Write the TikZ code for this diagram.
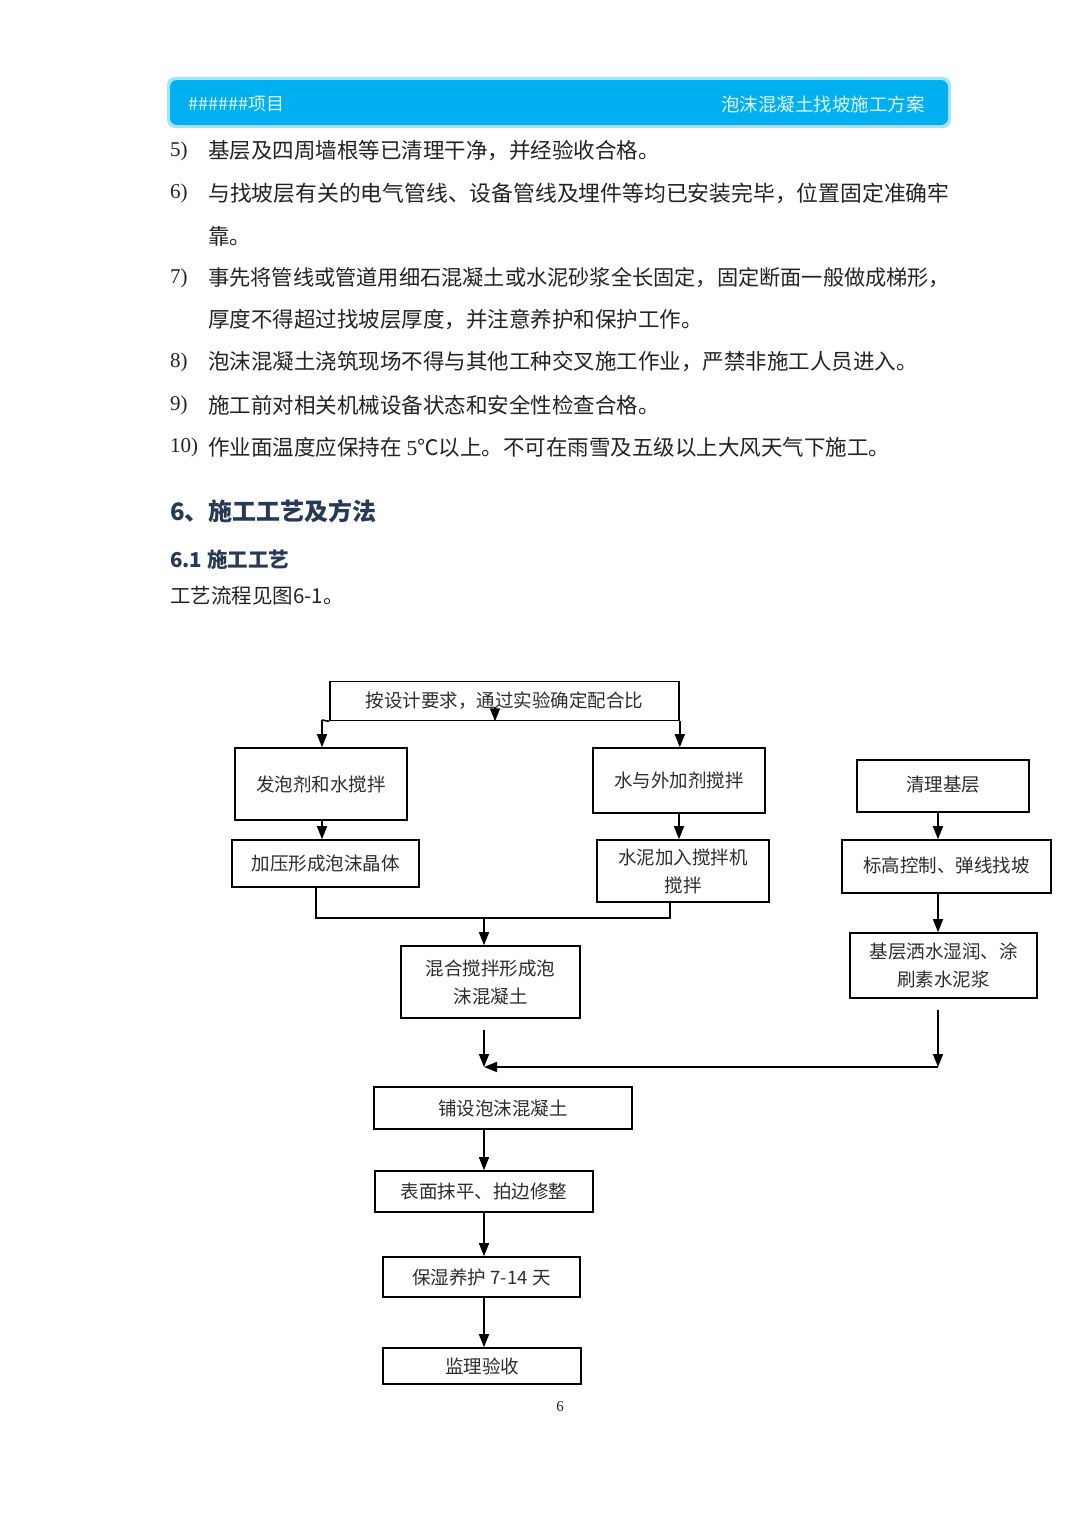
\documentclass[tikz,border=0pt]{standalone}
\usepackage{fontspec}
\setmainfont{Liberation Serif}
\newfontfamily\cjk{Noto Sans CJK SC}
\usetikzlibrary{arrows.meta}
\definecolor{hdr}{RGB}{0,176,240}
\definecolor{txt}{RGB}{35,35,35}
\definecolor{head}{RGB}{38,58,88}
\definecolor{flowtxt}{RGB}{45,45,45}
\tikzset{
  fbox/.style={draw=black, line width=1.6pt, inner sep=0pt, align=center,
    font=\cjk\fontsize{18.5}{28}\selectfont, text=flowtxt},
  conn/.style={line width=1.6pt},
  arr/.style={line width=1.6pt, -{Triangle[width=10pt,length=13pt]}},
  body/.style={anchor=west, inner sep=0pt, text=txt, font=\cjk\fontsize{21.5}{26}\selectfont},
  num/.style={anchor=west, inner sep=0pt, text=txt, font=\fontsize{21}{26}\selectfont},
}
\begin{document}
\begin{tikzpicture}[x=1pt,y=-1pt]
\useasboundingbox (0,0) rectangle (1080,1527);
\fill[white] (0,0) rectangle (1080,1527);
% header
\fill[hdr!35, rounded corners=8pt] (167,77) rectangle (951,128);
\fill[hdr, rounded corners=7pt] (170,80) rectangle (948,125);
\node[anchor=west, inner sep=0pt, text=white!88!hdr, font=\cjk\fontsize{18}{20}\selectfont] (h1) at (188,104) {\#\#\#\#\#\#项目};
\node[anchor=east, inner sep=0pt, text=white!88!hdr, font=\cjk\fontsize{18.5}{20}\selectfont] (h2) at (925,104) {泡沫混凝土找坡施工方案};
% body text
\node[num] (n5) at (170,151) {5)};
\node[body] (t5) at (208,151) {基层及四周墙根等已清理干净，并经验收合格。};
\node[num] (n6) at (170,193) {6)};
\node[body, font=\cjk\fontsize{21.8}{26}\selectfont] (t6) at (208,193) {与找坡层有关的电气管线、设备管线及埋件等均已安装完毕，位置固定准确牢};
\node[body] (t6b) at (208,236) {靠。};
\node[num] (n7) at (170,278) {7)};
\node[body, font=\cjk\fontsize{21.2}{26}\selectfont] (t7) at (208,278) {事先将管线或管道用细石混凝土或水泥砂浆全长固定，固定断面一般做成梯形，};
\node[body] (t7b) at (208,320) {厚度不得超过找坡层厚度，并注意养护和保护工作。};
\node[num] (n8) at (170,362) {8)};
\node[body] (t8) at (208,362) {泡沫混凝土浇筑现场不得与其他工种交叉施工作业，严禁非施工人员进入。};
\node[num] (n9) at (170,405) {9)};
\node[body] (t9) at (208,405) {施工前对相关机械设备状态和安全性检查合格。};
\node[num] (n10) at (170,447) {10)};
\node[body] (t10) at (208,447) {作业面温度应保持在 {\fontspec{Liberation Serif} 5}℃以上。不可在雨雪及五级以上大风天气下施工。};
% headings
\node[anchor=west, inner sep=0pt, text=head, font=\cjk\bfseries\fontsize{24}{28}\selectfont] (s6) at (170,511) {6、施工工艺及方法};
\node[anchor=west, inner sep=0pt, text=head, font=\cjk\bfseries\fontsize{20.5}{24}\selectfont] (s61) at (170,560) {6.1 施工工艺};
\node[body, font=\cjk\fontsize{20.5}{24}\selectfont] (intro) at (170,596) {工艺流程见图6-1。};
% flowchart boxes
\node[fbox, minimum width=349pt, minimum height=39pt] (b0) at (504.5,701) {按设计要求，通过实验确定配合比};
\node[fbox, minimum width=172pt, minimum height=72pt] (b1) at (321,784) {发泡剂和水搅拌};
\node[fbox, minimum width=187pt, minimum height=47pt] (b2) at (325.5,863.5) {加压形成泡沫晶体};
\node[fbox, minimum width=172pt, minimum height=65pt] (b3) at (679,780.5) {\raisebox{2pt}{水与外加剂搅拌}};
\node[fbox, minimum width=172pt, minimum height=62pt] (b4) at (683,871) {水泥加入搅拌机\\搅拌};
\node[fbox, minimum width=179pt, minimum height=72pt] (b5) at (490.5,982) {混合搅拌形成泡\\沫混凝土};
\node[fbox, minimum width=172pt, minimum height=52pt] (b6) at (943,786) {\raisebox{4pt}{清理基层}};
\node[fbox, minimum width=209pt, minimum height=53pt] (b7) at (946.5,866.5) {\raisebox{4pt}{标高控制、弹线找坡}};
\node[fbox, minimum width=187pt, minimum height=65pt] (b8) at (943.5,965.5) {基层洒水湿润、涂\\刷素水泥浆};
\node[fbox, minimum width=258pt, minimum height=42pt] (b9) at (503,1108) {铺设泡沫混凝土};
\node[fbox, minimum width=218pt, minimum height=41pt] (b10) at (484,1191.5) {表面抹平、拍边修整};
\node[fbox, minimum width=197pt, minimum height=40pt] (b11) at (481.5,1277) {保湿养护 7-14 天};
\node[fbox, minimum width=198pt, minimum height=36pt] (b12) at (482,1366) {监理验收};
% connectors
\coordinate (j0) at (322,720);
\draw[conn] (b0.south west) -- (j0);
\draw[arr] (j0) -- (j0 |- b1.north);
\draw[arr] (b0.south east) -- (b0.south east |- b3.north);
\coordinate (m0) at (495,707);
\draw[arr] (m0) -- (m0 |- b0.south);
\draw[arr] (j0 |- b1.south) -- (j0 |- b2.north);
\draw[arr] (b3.south) -- (b3.south |- b4.north);
\coordinate (j1) at (316,918);
\coordinate (j2) at (670,918);
\coordinate (j3) at (484,918);
\draw[conn] (j1 |- b2.south) -- (j1) -- (j2) -- (j2 |- b4.south);
\draw[arr] (j3) -- (j3 |- b5.north);
\coordinate (r0) at (938,812);
\draw[arr] (r0 |- b6.south) -- (r0 |- b7.north);
\draw[arr] (r0 |- b7.south) -- (r0 |- b8.north);
\coordinate (k1) at (484,1030);
\coordinate (k2) at (484,1067);
\coordinate (k3) at (938,1010);
\coordinate (k4) at (938,1067);
\draw[arr] (k1) -- (k2);
\draw[arr] (k3) -- (k4);
\draw[arr] (k4) -- (k2);
\draw[arr] (b10.north |- b9.south) -- (b10.north);
\draw[arr] (b10.south) -- (b10.south |- b11.north);
\draw[arr] (b10.south |- b11.south) -- (b10.south |- b12.north);
% page number
\node[inner sep=0pt, text=txt, font=\fontsize{15}{18}\selectfont] (pg) at (560,1407) {6};
\end{tikzpicture}
\end{document}
